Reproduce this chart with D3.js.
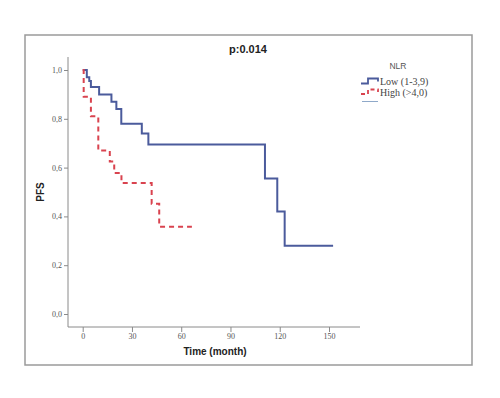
<!DOCTYPE html>
<html>
<head>
<meta charset="utf-8">
<script src="https://cdn.jsdelivr.net/npm/d3@7"></script>
<style>
  body { margin: 0; background: #fff; }
  svg { display: block; }
</style>
</head>
<body>
<div id="chart"></div>
<script>
// Kaplan-Meier steps (months, PFS)
const lowTime  = [0, 2.5, 4, 5, 10, 17.5, 20.5, 23.5, 36, 40, 111, 118.5, 123, 152.5];
const lowSurv  = [1.0, 0.97, 0.955, 0.93, 0.90, 0.87, 0.84, 0.78, 0.74, 0.695, 0.555, 0.42, 0.28, 0.28];
const highTime = [0, 0.6, 5, 9.5, 16.5, 19.2, 23.6, 42, 46.6, 66.5];
const highSurv = [1.0, 0.89, 0.81, 0.67, 0.625, 0.578, 0.537, 0.452, 0.358, 0.358];

const xTicks = [0, 30, 60, 90, 120, 150];
const yTicks = [0, 0.2, 0.4, 0.6, 0.8, 1.0];
const groups = ["Low (1-3,9)", "High (>4,0)"];

const width = 500, height = 398;
const svg = d3.select("#chart").append("svg")
    .attr("width", width)
    .attr("height", height);

// outer frame
svg.append("rect")
    .attr("x", 25).attr("y", 35)
    .attr("width", 447).attr("height", 330)
    .attr("fill", "none")
    .attr("stroke", "#9a9a9a")
    .attr("stroke-width", 1.5);

const x = d3.scaleLinear().domain([0, 150]).range([82.7, 329]);
const y = d3.scaleLinear().domain([0, 1]).range([314, 70]);

const axisColor = "#8a8a8a";

// axis lines (L shape)
svg.append("line")
    .attr("x1", 68).attr("x2", 68)
    .attr("y1", 57).attr("y2", 327)
    .attr("stroke", axisColor).attr("stroke-width", 1);
svg.append("line")
    .attr("x1", 68).attr("x2", 360)
    .attr("y1", 327).attr("y2", 327)
    .attr("stroke", axisColor).attr("stroke-width", 1);

const fmt = d => d3.format(".1f")(d).replace(".", ",");

const gy = svg.append("g")
    .attr("transform", "translate(68,0)")
    .call(d3.axisLeft(y).tickValues(yTicks).tickFormat(fmt).tickSize(4).tickPadding(2));
gy.select(".domain").remove();

const gx = svg.append("g")
    .attr("transform", "translate(0,327)")
    .call(d3.axisBottom(x).tickValues(xTicks).tickSize(5).tickPadding(1));
gx.select(".domain").remove();

svg.selectAll(".tick line").attr("stroke", axisColor);
svg.selectAll(".tick text")
    .attr("fill", "#555")
    .style("font-family", "'Liberation Serif', serif")
    .style("font-size", "8px");

// titles
svg.append("text")
    .attr("x", 248).attr("y", 53)
    .attr("text-anchor", "middle")
    .style("font-family", "'Liberation Sans', Arial, sans-serif")
    .style("font-weight", "bold")
    .style("font-size", "11px")
    .attr("fill", "#222")
    .text("p:0.014");

svg.append("text")
    .attr("x", 215).attr("y", 355)
    .attr("text-anchor", "middle")
    .style("font-family", "'Liberation Sans', Arial, sans-serif")
    .style("font-weight", "bold")
    .style("font-size", "10px")
    .attr("fill", "#222")
    .text("Time (month)");

svg.append("text")
    .attr("transform", "translate(44,192) rotate(-90)")
    .attr("text-anchor", "middle")
    .style("font-family", "'Liberation Sans', Arial, sans-serif")
    .style("font-weight", "bold")
    .style("font-size", "10px")
    .attr("fill", "#222")
    .text("PFS");

// survival curves
const line = d3.line()
    .curve(d3.curveStepAfter)
    .x(d => x(d[0]))
    .y(d => y(d[1]));

const lowData = d3.zip(lowTime, lowSurv);
const highData = d3.zip(highTime, highSurv);

svg.append("path")
    .datum(lowData)
    .attr("d", line)
    .attr("fill", "none")
    .attr("stroke", "#4b5b9c")
    .attr("stroke-width", 2);

svg.append("path")
    .datum(highData)
    .attr("d", line)
    .attr("fill", "none")
    .attr("stroke", "#d9434f")
    .attr("stroke-width", 2)
    .attr("stroke-dasharray", "5,4");

// legend
svg.append("text")
    .attr("x", 398).attr("y", 69)
    .attr("text-anchor", "middle")
    .style("font-family", "'Liberation Sans', Arial, sans-serif")
    .style("font-size", "8.5px")
    .attr("fill", "#555")
    .text("NLR");

svg.append("path")
    .attr("d", "M361,83.5H368V78.5H378V81.5")
    .attr("fill", "none")
    .attr("stroke", "#4b5b9c")
    .attr("stroke-width", 1.8);

svg.append("path")
    .attr("d", "M361,94H368V89.5H378V92")
    .attr("fill", "none")
    .attr("stroke", "#d9434f")
    .attr("stroke-width", 1.8)
    .attr("stroke-dasharray", "4,3");

svg.append("line")
    .attr("x1", 362).attr("x2", 378)
    .attr("y1", 101.5).attr("y2", 101.5)
    .attr("stroke", "#8fa9c9")
    .attr("stroke-width", 1);

svg.selectAll(".legtext")
    .data(groups)
    .enter()
    .append("text")
    .attr("class", "legtext")
    .attr("x", 380)
    .attr("y", (d, i) => 84.5 + i * 11.5)
    .style("font-family", "'Liberation Serif', 'Times New Roman', serif")
    .style("font-size", "10px")
    .attr("fill", "#444")
    .text(d => d);
</script>
</body>
</html>
